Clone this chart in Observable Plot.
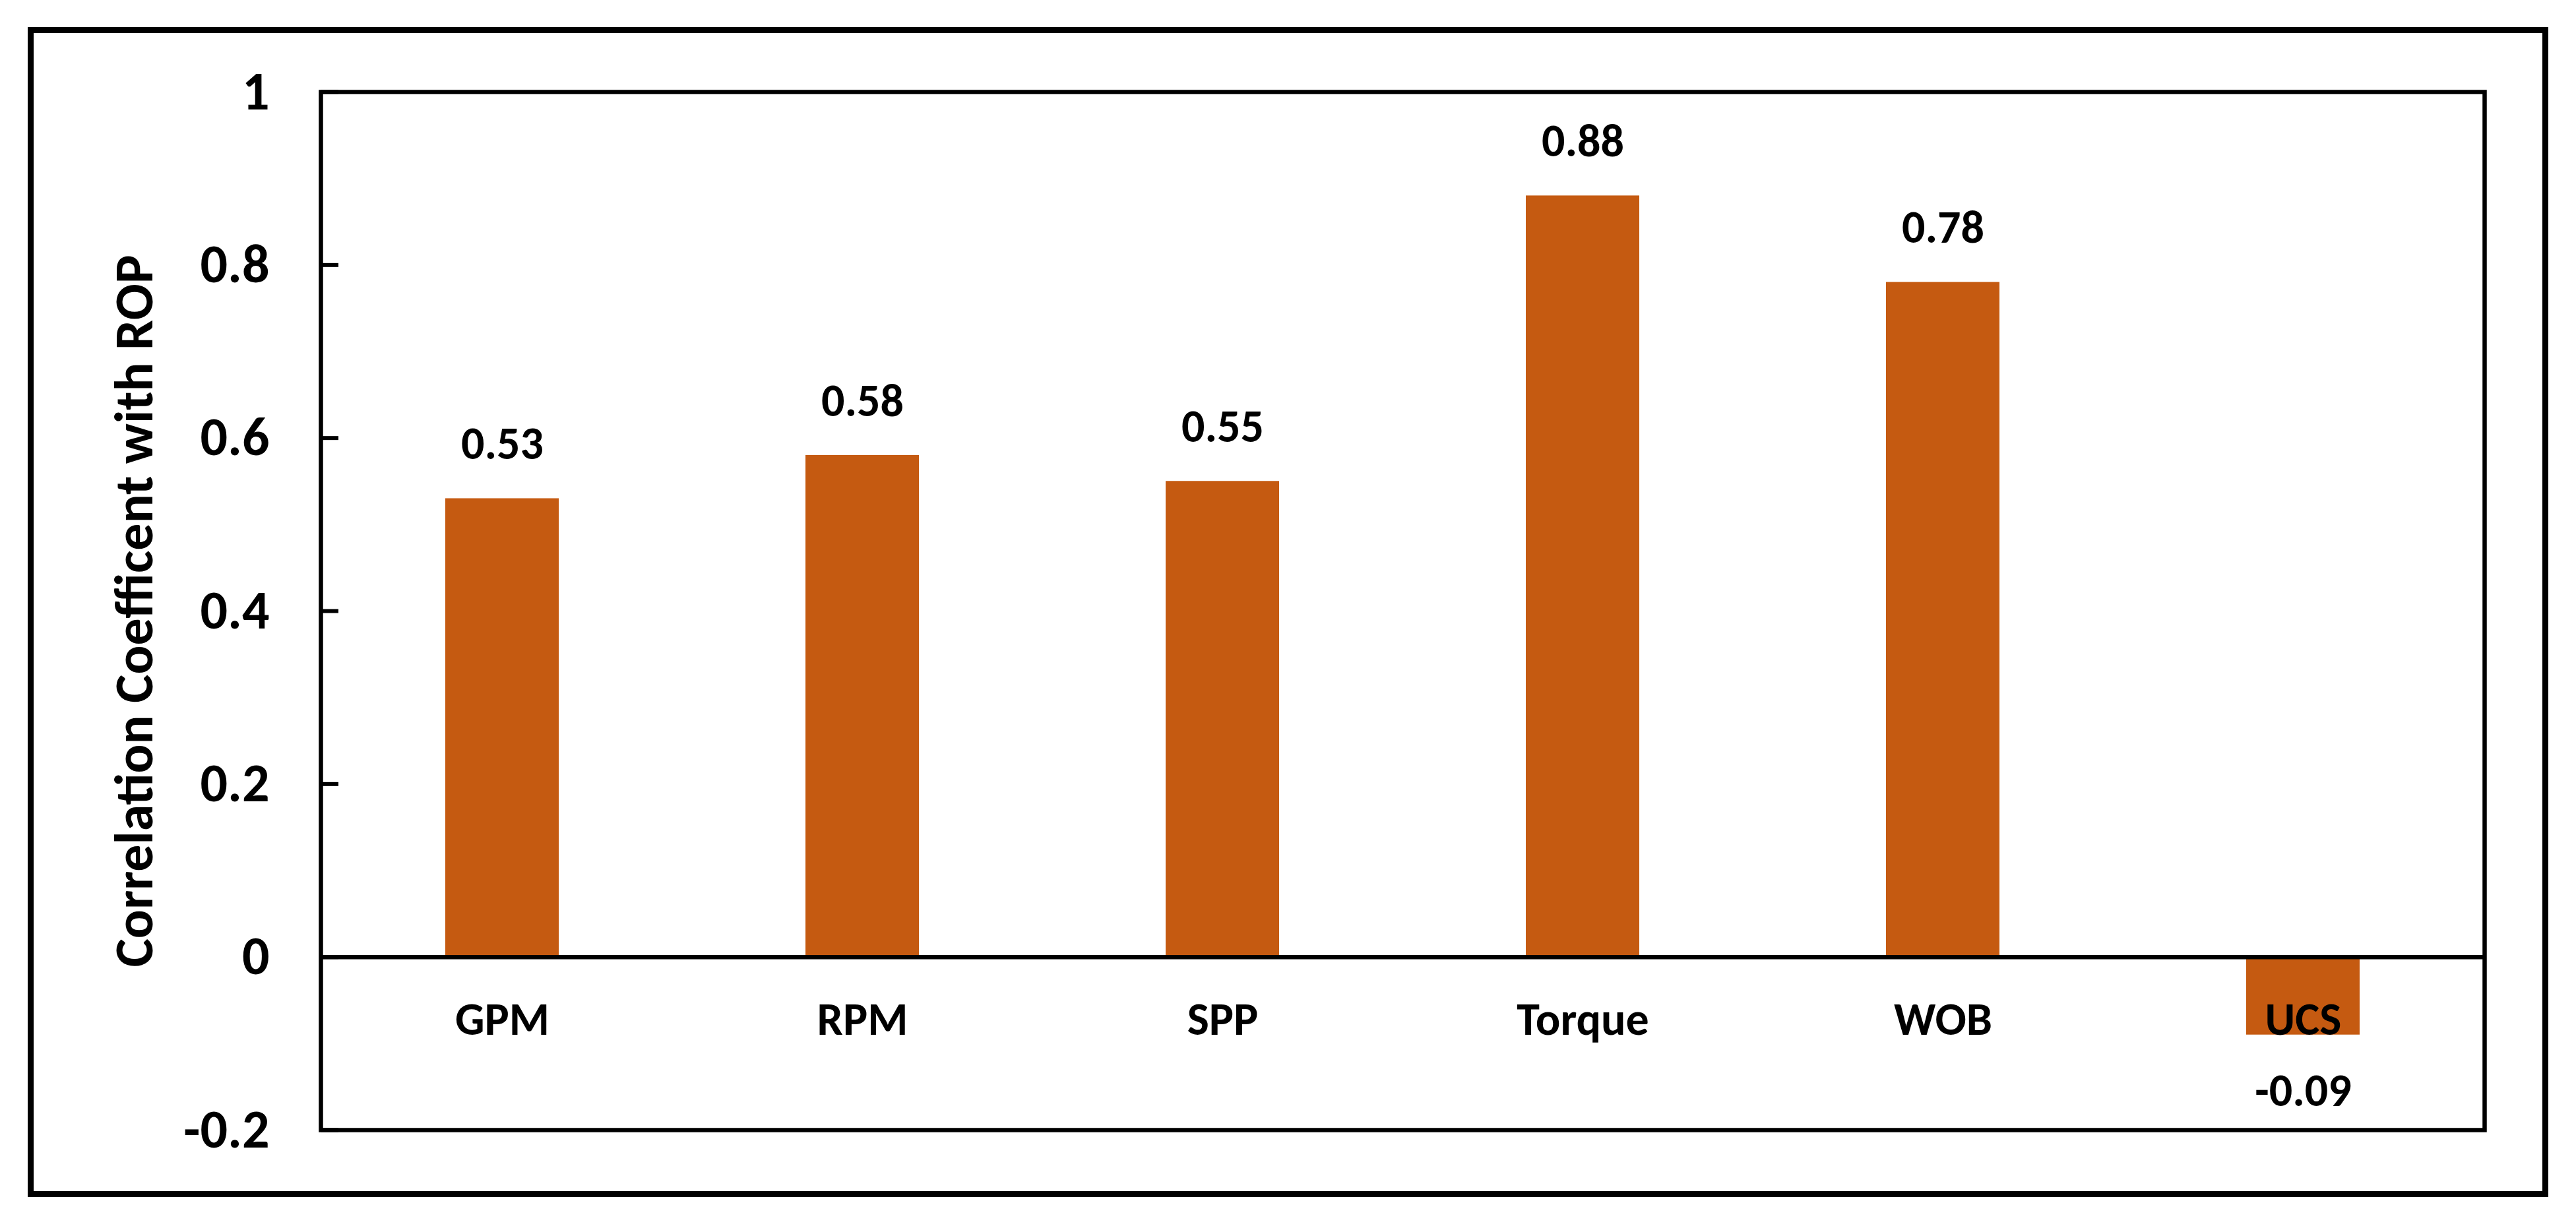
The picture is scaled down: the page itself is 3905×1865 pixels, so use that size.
<!DOCTYPE html>
<html>
<head>
<meta charset="utf-8">
<script src="https://cdn.jsdelivr.net/npm/d3@7"></script>
<script src="https://cdn.jsdelivr.net/npm/@observablehq/plot@0.6"></script>
<style>
  html, body { margin: 0; padding: 0; background: white; }
  #wrap { position: relative; width: 3905px; height: 1865px; background: white; }
  #border { position: absolute; left: 42px; top: 41px; width: 3821px; height: 1774px;
            border: 9px solid black; box-sizing: border-box; pointer-events: none; }
</style>
</head>
<body>
<div id="wrap"><div id="border"></div></div>
<script>
const categories = ["GPM", "RPM", "SPP", "Torque", "WOB", "UCS"];
const values = [0.53, 0.58, 0.55, 0.88, 0.78, -0.09];
const yTicks = [-0.2, 0, 0.2, 0.4, 0.6, 0.8, 1];
const yTitle = "Correlation Coefficent with ROP";
const barColor = "#C55A11";

const data = categories.map((c, i) => ({category: c, value: values[i]}));
const fmtTick = d => String(+d.toFixed(1));

const W = 3905, H = 1865, ML = 486, MR = 139, MT = 139, MB = 152;
const plotW = W - ML - MR;

const chart = Plot.plot({
  width: W,
  height: H,
  marginLeft: ML,
  marginRight: MR,
  marginTop: MT,
  marginBottom: MB,
  style: {fontFamily: "Carlito, Lato, sans-serif", fontSize: "70px", fontWeight: "bold", color: "black", background: "transparent"},
  x: {domain: categories, paddingInner: 0.685, paddingOuter: 0.3425, axis: null},
  y: {domain: [-0.2, 1]},
  marks: [
    Plot.barY(data, {x: "category", y: "value", fill: barColor}),
    Plot.ruleY([0], {stroke: "black", strokeWidth: 6.5}),
    Plot.tickY(yTicks, {y: d => d, stroke: "black", strokeWidth: 6, insetRight: plotW - 27}),
    Plot.frame({stroke: "black", strokeWidth: 6.5}),
    Plot.axisY({ticks: yTicks, tickFormat: fmtTick, tickSize: 0, tickPadding: 78, label: null, fontSize: 82}),
    Plot.text(data, {x: "category", y: 0, text: "category", dy: 95, fontSize: 70}),
    Plot.text(data.filter(d => d.value >= 0), {x: "category", y: "value", text: d => d.value.toFixed(2), dy: -82, fontSize: 70}),
    Plot.text(data.filter(d => d.value < 0), {x: "category", y: "value", text: d => d.value.toFixed(2), dy: 85, fontSize: 70}),
    Plot.text([yTitle], {frameAnchor: "left", rotate: -90, dx: -282, textAnchor: "middle", lineAnchor: "middle", text: d => d, fontSize: 82})
  ]
});
document.getElementById("wrap").appendChild(chart);
chart.style.position = "absolute";
chart.style.left = "0";
chart.style.top = "0";
</script>
</body>
</html>
